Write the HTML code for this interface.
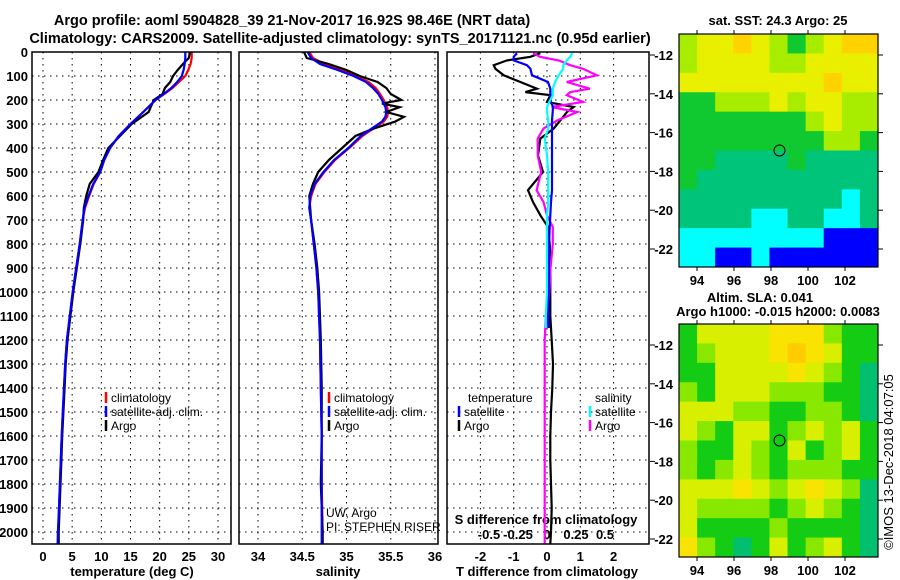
<!DOCTYPE html>
<html><head><meta charset="utf-8"><style>
html,body{margin:0;padding:0;background:#fff}
svg{display:block;font-family:"Liberation Sans",sans-serif}
.t{font-weight:bold;font-size:13px}
.ttl{font-weight:bold;font-size:14.5px}
.lg{font-size:12px}
</style></head><body>
<svg id="c" width="900" height="580" viewBox="0 0 900 580">
<text class="ttl" x="292" y="25" text-anchor="middle">Argo profile: aoml 5904828_39 21-Nov-2017 16.92S 98.46E (NRT data)</text>
<text class="ttl" x="340" y="43" text-anchor="middle">Climatology: CARS2009. Satellite-adjusted climatology: synTS_20171121.nc (0.95d earlier)</text>
<g id="g"></g>
</svg>
<script>
// ---- data ----
const depthTicks=[0,100,200,300,400,500,600,700,800,900,1000,1100,1200,1300,1400,1500,1600,1700,1800,1900,2000];
const tTicks=[0,5,10,15,20,25,30];
const sTicks=[34,34.5,35,35.5,36];
const tdTicks=[-2,-1,0,1,2];
const sdTicks=[-0.5,-0.25,0,0.25,0.5];
const sdTickLabels=["-0.5","-0.25","0","0.25","0.5"];
const tDepth=[0,25,50,75,100,125,150,175,200,250,300,350,400,450,500,550,600,650,700,800,900,1000,1100,1200,1300,1400,1500,1600,1700,1800,1900,2000,2050];
const tClim=[25.5,25.5,25.3,24.9,24.4,23.3,22.2,20.8,19.3,17.2,15.0,13.0,11.5,10.5,9.8,8.7,7.9,7.2,6.8,6.3,5.7,5.1,4.6,4.1,3.8,3.6,3.4,3.2,3.05,2.9,2.75,2.6,2.55];
const tSat=[24.4,24.4,24.3,24.1,23.8,23.0,22.0,20.7,19.3,17.2,15.0,13.0,11.5,10.5,9.8,8.6,7.8,7.1,6.8,6.3,5.7,5.1,4.6,4.1,3.8,3.6,3.4,3.2,3.05,2.9,2.75,2.55,2.5];
const tArgo=[25.2,25.0,24.0,23.1,22.3,21.8,20.9,20.5,19.0,18.1,15.2,13.2,11.2,10.3,9.5,8.0,7.4,7.0,6.9,6.4,5.8,5.2,4.7,4.2,3.9,3.7,3.5,3.3,3.15,3.0,2.85,2.7,2.7];
const sDepth=[0,25,50,75,100,125,150,175,200,215,230,250,270,290,320,350,400,450,500,550,600,650,700,800,900,1000,1200,1400,1600,1800,2000,2050];
const sClim=[34.58,34.62,34.75,34.95,35.12,35.25,35.33,35.38,35.42,35.44,35.46,35.47,35.46,35.42,35.3,35.18,35.03,34.87,34.75,34.65,34.6,34.58,34.6,34.63,34.66,34.68,34.7,34.71,34.72,34.72,34.73,34.73];
const sSat=[34.56,34.6,34.7,34.9,35.08,35.22,35.3,35.36,35.4,35.42,35.44,35.45,35.44,35.4,35.28,35.16,35.02,34.86,34.74,34.64,34.59,34.58,34.6,34.63,34.66,34.68,34.7,34.71,34.72,34.72,34.72,34.72];
const sArgo=[34.52,34.55,34.8,35.0,35.15,35.35,35.45,35.5,35.62,35.4,35.6,35.45,35.65,35.55,35.3,35.1,34.95,34.8,34.68,34.62,34.58,34.59,34.6,34.64,34.67,34.69,34.71,34.72,34.72,34.71,34.73,34.73];
const dDepth=[5,20,35,55,70,97,125,153,167,180,208,229,250,285,319,361,431,500,576,625,680,729,800,900,1000,1100,1150];
const tdArgo=[-0.2,-0.5,-1.2,-1.6,-1.55,-1.3,-0.8,-0.3,-0.65,0.1,0.0,0.8,0.6,0.4,0.2,-0.2,-0.27,-0.12,-0.57,-0.42,-0.2,0.03,0.08,0.1,0.1,0.1,0.1];
const tdSat=[-0.9,-1.0,-1.0,-0.6,-0.5,-0.45,0.03,0.1,0.1,0.1,0.12,0.18,0.17,0.15,0.15,0.15,0.15,0.15,0.15,0.12,0.1,0.08,0.06,0.05,0.05,0.04,0.04];
const sdArgo=[-0.12,-0.06,0.1,0.2,0.31,0.43,0.17,0.37,0.2,0.17,0.31,0.04,0.26,0.09,-0.03,-0.08,-0.08,-0.05,-0.09,-0.03,0.0,0.05,0.05,0.03,0.02,0.0,-0.01];
const sdSat=[0.22,0.2,0.17,0.14,0.14,0.1,0.07,0.05,0.05,0.05,0.02,0.0,0.0,0.01,0.01,-0.02,0.0,0.01,0.01,0.01,0.0,0.0,0.0,0.0,0.0,-0.01,-0.01];
const deepDepth=[1100,1200,1300,1400,1500,1600,1700,1800,1900,2000,2050];
const tdArgoDeep=[0.1,0.14,0.18,0.16,0.12,0.1,0.1,0.12,0.14,0.12,0.1];
const sdArgoDeep=[-0.01,-0.02,-0.02,-0.02,-0.02,-0.02,-0.02,-0.02,-0.02,-0.02,-0.02];
const latTicks=[-12,-14,-16,-18,-20,-22];
const lonTicks=[94,96,98,100,102];
const sstGrid=[
[3,4,4,5,4,3,2,3,4,5,5],[3,4,4,4,4,3,3,4,4,4,4],[4,4,4,4,4,4,4,4,5,4,4],[2,2,3,3,3,4,3,4,4,3,3],
[2,2,2,2,2,2,2,3,4,3,3],[2,2,2,2,2,2,2,2,3,3,2],[2,2,1,1,1,1,2,1,1,1,1],[2,1,1,1,1,1,1,1,1,1,1],
[1,1,1,1,1,1,1,1,1,0,1],[1,1,1,1,0,0,1,1,0,0,1],[0,0,0,0,0,0,0,0,-1,-1,-1],[0,0,-1,-1,0,-1,-1,-1,-1,-1,-1]];
const slaGrid=[
[1,3,3,3,3,4,4,4,2,1,1],[1,2,3,3,3,4,5,4,3,1,1],[1,1,3,3,3,3,4,3,2,1,0],[2,1,3,3,3,2,2,2,1,1,0],
[3,3,3,2,2,1,1,2,2,1,0],[3,2,1,3,3,1,2,3,2,3,1],[2,1,1,3,2,1,3,1,2,3,1],[2,1,2,3,2,1,2,2,2,1,1],
[3,3,3,4,3,2,3,4,3,2,0],[3,2,2,2,2,1,2,3,2,1,0],[3,1,1,1,1,2,1,1,1,1,0],[4,2,1,0,1,3,1,2,3,1,0]];
const argoPos=[98.46,-16.92];
// ---- drawing ----
const NS="http://www.w3.org/2000/svg",G=document.getElementById('g');
function mk(tag,at,parent){const e=document.createElementNS(NS,tag);for(const k in at)e.setAttribute(k,at[k]);(parent||G).appendChild(e);return e;}
const Y=d=>52+d*0.24;
const P1={x0:32,x1:231,f:v=>43+v*5.833};
const P2={x0:239,x1:438,f:v=>258+(v-34)*88.5};
const P3={x0:447,x1:649,f:v=>547+v*33.3,fs:v=>547+v*116};
const yTop=52,yBot=544;
function grid(P,xt,fx){
  depthTicks.forEach(d=>{const l=mk('line',{x1:P.x0,x2:P.x1,y1:Y(d),y2:Y(d),stroke:'#000','stroke-dasharray':'1.5,4.5'});
  });
  xt.forEach(v=>{const l=mk('line',{x1:fx(v),x2:fx(v),y1:yTop,y2:yBot,stroke:'#000','stroke-dasharray':'1.5,4.5'});
  });
}
function frame(P,name){const r=mk('rect',{x:P.x0,y:yTop,width:P.x1-P.x0,height:yBot-yTop,fill:'none',stroke:'#000','stroke-width':1.5});
  }
function line(dep,vals,fx,col,name){const pts=dep.map((d,i)=>fx(vals[i]).toFixed(1)+','+Y(d).toFixed(1)).join(' ');
  const p=mk('polyline',{points:pts,fill:'none',stroke:col,'stroke-width':2.2,'stroke-linejoin':'miter'});
  }
function txt(x,y,s,cls,anchor,name){const t=mk('text',{x:x,y:y,'class':cls,'text-anchor':anchor||'middle'});t.textContent=s;
  return t;}
grid(P1,tTicks,P1.f);grid(P2,sTicks,P2.f);grid(P3,tdTicks,P3.f);
depthTicks.forEach(d=>txt(28,Y(d)+5,String(d),'t','end','depth-tick-label'));
tTicks.forEach(v=>txt(P1.f(v),561,String(v),'t','middle','temperature-tick-label'));
sTicks.forEach(v=>txt(P2.f(v),561,String(v),'t','middle','salinity-tick-label'));
tdTicks.forEach(v=>txt(P3.f(v),561,String(v),'t','middle','t-diff-tick-label'));
sdTicks.forEach((v,i)=>txt(P3.fs(v),539,sdTickLabels[i],'t','middle','s-diff-tick-label'));
txt(132,576,'temperature (deg C)','t','middle','temperature-axis-title');
txt(338,576,'salinity','t','middle','salinity-axis-title');
txt(547,576,'T difference from climatology','t','middle','t-diff-axis-title');
txt(546,524,'S difference from climatology','t','middle','s-diff-axis-title');
line(tDepth,tClim,P1.f,'#f00','temp-climatology-line');
line(tDepth,tArgo,P1.f,'#000','temp-argo-line');
line(tDepth,tSat,P1.f,'#00f','temp-satellite-line');
line(sDepth,sClim,P2.f,'#f00','sal-climatology-line');
line(sDepth,sArgo,P2.f,'#000','sal-argo-line');
line(sDepth,sSat,P2.f,'#00f','sal-satellite-line');
line(deepDepth,sdArgoDeep,P3.fs,'#f0f','s-diff-argo-deep-line');
line(deepDepth,tdArgoDeep,P3.f,'#000','t-diff-argo-deep-line');
line(dDepth,tdArgo,P3.f,'#000','t-diff-argo-line');
line(dDepth,sdArgo,P3.fs,'#f0f','s-diff-argo-line');
line(dDepth,tdSat,P3.f,'#00f','t-diff-satellite-line');
line(dDepth,sdSat,P3.fs,'#0ff','s-diff-satellite-line');
frame(P1,'temperature-panel');frame(P2,'salinity-panel');frame(P3,'difference-panel');
function leg(x,y,col,s,name){const l=mk('line',{x1:x,x2:x,y1:y-10,y2:y+1,stroke:col,'stroke-width':2.5});
  
  txt(x+5,y,s,'lg','start',name);}
[[P1,106],[P2,329]].forEach(([P,x])=>{leg(x,402,'#f00','climatology','legend-climatology');leg(x,416,'#00f','satellite-adj. clim.','legend-satellite');leg(x,430,'#000','Argo','legend-argo');});
txt(468,402,'temperature','lg','start','legend-temperature-header');
txt(595,402,'salinity','lg','start','legend-salinity-header');
leg(459,416,'#00f','satellite','legend-t-satellite');leg(459,430,'#000','Argo','legend-t-argo');
leg(590,416,'#0ff','satellite','legend-s-satellite');leg(590,430,'#f0f','Argo','legend-s-argo');
txt(326,517,'UW, Argo','lg','start','data-source-label');
txt(326,531,'PI: STEPHEN RISER','lg','start','pi-label');
// maps
const sstCol={'-1':'#0000ff','0':'#00ffff','1':'#00c47a','2':'#10c830','3':'#a8ec00','4':'#e8f000','5':'#ffd200'};
const slaCol={'0':'#00c070','1':'#14cc14','2':'#88e800','3':'#d8f000','4':'#f8e400','5':'#ffcc00'};
function map(y0,gridv,cols,name){
  const x0=679,x1=878,y1=y0+233,lx=v=>697+(v-94)*18.5,ly=v=>y0+21+(-12-v)*19.4;
  const nr=gridv.length,nc=gridv[0].length,cw=(x1-x0)/nc,ch=(y1-y0)/nr;
  gridv.forEach((row,i)=>row.forEach((v,j)=>{const r=mk('rect',{x:x0+j*cw,y:y0+i*ch,width:cw+0.5,height:ch+0.5,fill:cols[v]});
    }));
  const f=mk('rect',{x:x0,y:y0,width:x1-x0,height:y1-y0,fill:'none',stroke:'#000','stroke-width':1.2});
  
  latTicks.forEach(v=>{txt(673,ly(v)+5,String(v),'t','end',name+'-lat-label');
    mk('line',{x1:650,x2:655,y1:ly(v),y2:ly(v),stroke:'#000'});mk('line',{x1:x1,x2:x1+5,y1:ly(v),y2:ly(v),stroke:'#000'});});
  lonTicks.forEach(v=>{txt(lx(v),y1+18,String(v),'t','middle',name+'-lon-label');
    mk('line',{x1:lx(v),x2:lx(v),y1:y0-4,y2:y0,stroke:'#000'});mk('line',{x1:lx(v),x2:lx(v),y1:y1,y2:y1+4,stroke:'#000'});});
  const c=mk('circle',{cx:lx(argoPos[0]),cy:ly(argoPos[1]),r:5.5,fill:'none',stroke:'#000','stroke-width':1});
  
}
map(34,sstGrid,sstCol,'sst-map');
map(324,slaGrid,slaCol,'sla-map');
txt(778,25,'sat. SST: 24.3 Argo: 25','t','middle','sst-map-title');
txt(760,302,'Altim. SLA: 0.041','t','middle','sla-map-title');
txt(778,316,'Argo h1000: -0.015 h2000: 0.0083','t','middle','sla-map-subtitle');
const cr=txt(0,0,'©IMOS 13-Dec-2018 04:07:05','lg','middle','credit-label');
cr.setAttribute('transform','translate(893,462) rotate(-90)');cr.setAttribute('style','font-size:13px');
</script>
</body></html>
